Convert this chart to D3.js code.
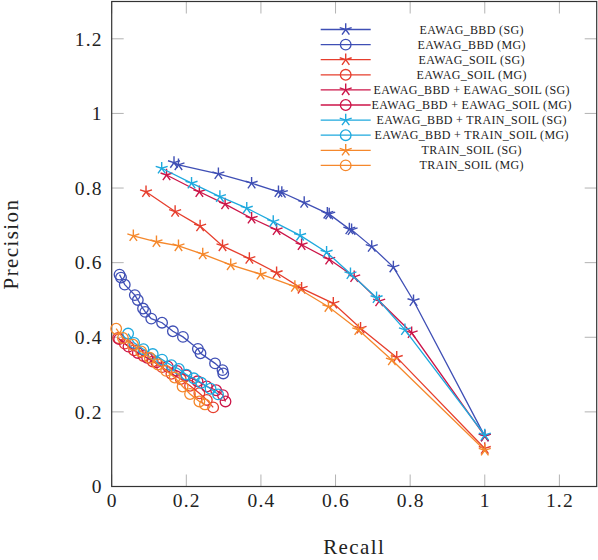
<!DOCTYPE html>
<html><head><meta charset="utf-8">
<script src="https://cdn.jsdelivr.net/npm/d3@7"></script>
<style>body{margin:0;background:#fff}svg{display:block}</style>
</head><body>
<svg id="c" width="598" height="560"></svg>
<script>
const seriesNames = [
  "EAWAG_BBD (SG)", "EAWAG_BBD (MG)",
  "EAWAG_SOIL (SG)", "EAWAG_SOIL (MG)",
  "EAWAG_BBD + EAWAG_SOIL (SG)", "EAWAG_BBD + EAWAG_SOIL (MG)",
  "EAWAG_BBD + TRAIN_SOIL (SG)", "EAWAG_BBD + TRAIN_SOIL (MG)",
  "TRAIN_SOIL (SG)", "TRAIN_SOIL (MG)"
];
const seriesColors = ["#3f4fb5","#3f4fb5","#e63e2d","#e63e2d","#cc1548","#cc1548","#1ea9de","#1ea9de","#f5882c","#f5882c"];
const seriesMarkers = ["star","circle","star","circle","star","circle","star","circle","star","circle"];

const bbdSG = [[0.167,0.868],[0.179,0.862],[0.286,0.838],[0.375,0.813],[0.447,0.790],[0.456,0.788],[0.516,0.761],[0.578,0.732],[0.583,0.730],[0.637,0.690],[0.643,0.688],[0.697,0.643],[0.755,0.588],[0.809,0.498],[1.0,0.135]];
const bbdMG = [[0.021,0.568],[0.025,0.560],[0.035,0.541],[0.062,0.513],[0.070,0.500],[0.084,0.477],[0.090,0.468],[0.106,0.450],[0.135,0.439],[0.164,0.416],[0.191,0.401],[0.231,0.369],[0.238,0.357],[0.277,0.330],[0.297,0.312],[0.299,0.303]];
const soilSG = [[0.092,0.790],[0.170,0.737],[0.237,0.698],[0.297,0.645],[0.369,0.611],[0.442,0.573],[0.509,0.531],[0.594,0.491],[0.667,0.424],[0.764,0.346],[1.0,0.102]];
const soilMG = [[0.017,0.398],[0.035,0.383],[0.060,0.365],[0.085,0.350],[0.110,0.335],[0.135,0.320],[0.160,0.302],[0.185,0.288],[0.210,0.270],[0.235,0.250],[0.255,0.232],[0.272,0.212]];
const bbdSoilSG = [[0.147,0.835],[0.235,0.790],[0.304,0.757],[0.375,0.719],[0.442,0.688],[0.509,0.648],[0.583,0.609],[0.650,0.562],[0.717,0.497],[0.804,0.412],[1.0,0.135]];
const bbdSoilMG = [[0.020,0.395],[0.045,0.375],[0.070,0.358],[0.095,0.345],[0.120,0.333],[0.150,0.322],[0.175,0.310],[0.200,0.298],[0.230,0.282],[0.255,0.268],[0.280,0.258],[0.298,0.245],[0.305,0.228]];
const bbdTrainSG = [[0.134,0.853],[0.214,0.813],[0.290,0.777],[0.362,0.746],[0.433,0.710],[0.505,0.673],[0.576,0.628],[0.640,0.570],[0.710,0.506],[0.786,0.420],[1.0,0.138]];
const bbdTrainMG = [[0.044,0.410],[0.060,0.385],[0.085,0.368],[0.110,0.355],[0.135,0.340],[0.160,0.325],[0.180,0.315],[0.200,0.300],[0.220,0.290],[0.240,0.278],[0.265,0.262],[0.285,0.247]];
const trainSG = [[0.058,0.672],[0.120,0.656],[0.179,0.645],[0.244,0.623],[0.319,0.594],[0.399,0.569],[0.491,0.536],[0.581,0.482],[0.661,0.420],[0.751,0.339],[1.0,0.097]];
const trainMG = [[0.012,0.423],[0.030,0.398],[0.057,0.380],[0.079,0.362],[0.102,0.345],[0.124,0.327],[0.146,0.310],[0.169,0.292],[0.190,0.268],[0.210,0.248],[0.235,0.228],[0.250,0.220]];
const seriesData = [bbdSG,bbdMG,soilSG,soilMG,bbdSoilSG,bbdSoilMG,bbdTrainSG,bbdTrainMG,trainSG,trainMG];

const xTicks = [0,0.2,0.4,0.6,0.8,1,1.2];
const yTicks = [0,0.2,0.4,0.6,0.8,1,1.2];
const xLabel = "Recall", yLabel = "Precision";

const svg = d3.select("#c");
const L = 111.7, R = 596.7, T = 1.5, B = 486.5;
const x = d3.scaleLinear().domain([0,1.3]).range([L,R]);
const y = d3.scaleLinear().domain([0,1.3]).range([B,T]);
const tickFont = "'Liberation Serif', serif";

// inner ticks (grey)
const tickLen = 12;
const gT = svg.append("g").attr("stroke","#b3b3b3").attr("stroke-width",1);
xTicks.forEach(t => {
  gT.append("line").attr("x1",x(t)).attr("x2",x(t)).attr("y1",B).attr("y2",B-tickLen);
  gT.append("line").attr("x1",x(t)).attr("x2",x(t)).attr("y1",T).attr("y2",T+tickLen);
});
yTicks.forEach(t => {
  gT.append("line").attr("y1",y(t)).attr("y2",y(t)).attr("x1",L).attr("x2",L+tickLen);
  gT.append("line").attr("y1",y(t)).attr("y2",y(t)).attr("x1",R).attr("x2",R-tickLen);
});

// axes via d3 (labels only)
const xAxis = svg.append("g").attr("transform",`translate(0,${B})`)
  .call(d3.axisBottom(x).tickValues(xTicks).tickFormat(d3.format("")).tickSize(0).tickPadding(7));
const yAxis = svg.append("g").attr("transform",`translate(${L},0)`)
  .call(d3.axisLeft(y).tickValues(yTicks).tickFormat(d3.format("")).tickSize(0).tickPadding(9));
[xAxis,yAxis].forEach(a => {
  a.select(".domain").remove();
  a.selectAll("text").attr("font-family",tickFont).attr("font-size",19.5).attr("fill","#222").attr("letter-spacing",1.2);
});

// frame
svg.append("rect").attr("x",L).attr("y",T).attr("width",R-L).attr("height",B-T)
  .attr("fill","none").attr("stroke","#333").attr("stroke-width",1.2);

// axis titles
svg.append("text").attr("x",(L+R)/2).attr("y",554).attr("text-anchor","middle")
  .attr("font-family",tickFont).attr("font-size",21).attr("letter-spacing",1.4).attr("fill","#222").text(xLabel);
svg.append("text").attr("transform",`translate(18,${(T+B)/2}) rotate(-90)`).attr("text-anchor","middle")
  .attr("font-family",tickFont).attr("font-size",21).attr("letter-spacing",1.4).attr("fill","#222").text(yLabel);

function starPath(r){
  let p="";
  for(let k=0;k<5;k++){
    const a = -Math.PI/2 + k*2*Math.PI/5;
    p += `M0,0L${(r*Math.cos(a)).toFixed(2)},${(r*Math.sin(a)).toFixed(2)}`;
  }
  return p;
}
function drawMarker(g, type, cx, cy, color){
  if(type==="star"){
    g.append("path").attr("d",starPath(6.3)).attr("transform",`translate(${cx},${cy})`)
      .attr("fill","none").attr("stroke",color).attr("stroke-width",1.4);
  } else {
    g.append("circle").attr("cx",cx).attr("cy",cy).attr("r",5.3)
      .attr("fill","none").attr("stroke",color).attr("stroke-width",1.3);
  }
}

const line = d3.line().x(d=>x(d[0])).y(d=>y(d[1]));
const plot = svg.append("g");
seriesData.forEach((data,i) => {
  const g = plot.append("g");
  g.append("path").attr("d",line(data)).attr("fill","none").attr("stroke",seriesColors[i]).attr("stroke-width",1.3);
  data.forEach(d => drawMarker(g, seriesMarkers[i], x(d[0]), y(d[1]), seriesColors[i]));
});

// legend
const lg = svg.append("g");
seriesNames.forEach((name,i) => {
  const ly = 29.5 + i*15.1;
  lg.append("line").attr("x1",320.7).attr("x2",370.7).attr("y1",ly).attr("y2",ly)
    .attr("stroke",seriesColors[i]).attr("stroke-width",1.3);
  drawMarker(lg, seriesMarkers[i], 345.7, ly, seriesColors[i]);
  lg.append("text").attr("x",471.7).attr("y",ly+4).attr("text-anchor","middle")
    .attr("font-family",tickFont).attr("font-size",12).attr("letter-spacing",0.35).attr("fill","#222").text(name);
});
</script>
</body></html>
